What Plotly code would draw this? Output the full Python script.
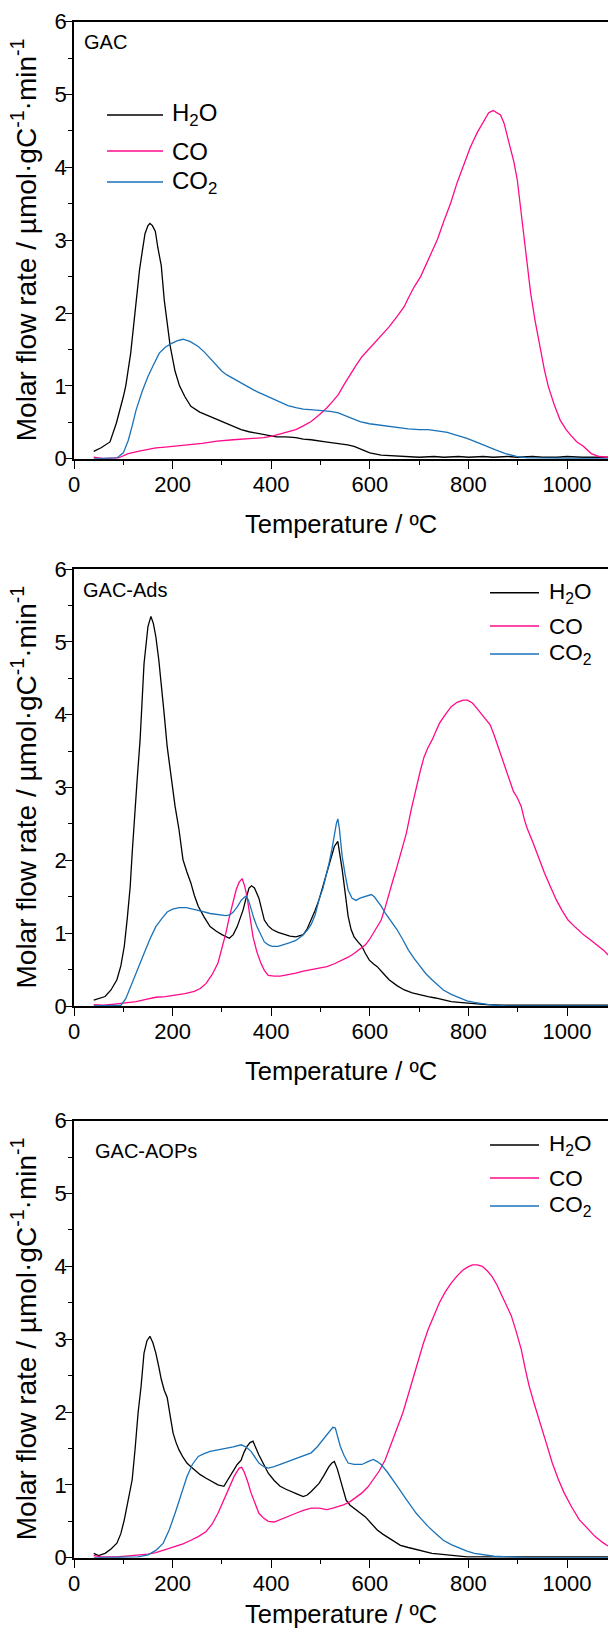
import plotly.graph_objects as go

# ---------------- DATA ----------------
panel_names = ["GAC", "GAC-Ads", "GAC-AOPs"]
series_names = ["H<sub>2</sub>O", "CO", "CO<sub>2</sub>"]

# Panel 1: GAC
gac_h2o_t = [40, 55, 73, 86, 100, 105, 115, 126, 133, 139, 144, 150, 154, 159, 165, 170, 177, 183, 186, 195, 205, 214, 225, 237, 255, 276, 295, 308, 325, 339, 355, 371, 390, 410, 430, 450, 465, 481, 510, 536, 555, 568, 585, 600, 623, 650, 680, 700, 730, 750, 780, 800, 830, 850, 880, 900, 930, 950, 980, 1000, 1030, 1050, 1070, 1083]
gac_h2o_v = [0.10, 0.15, 0.23, 0.49, 0.85, 1.0, 1.45, 2.18, 2.6, 2.87, 3.09, 3.2, 3.23, 3.2, 3.12, 2.9, 2.65, 2.18, 2.0, 1.55, 1.2, 1.0, 0.85, 0.72, 0.64, 0.58, 0.52, 0.49, 0.44, 0.40, 0.37, 0.35, 0.32, 0.30, 0.30, 0.29, 0.27, 0.26, 0.23, 0.21, 0.19, 0.17, 0.12, 0.08, 0.05, 0.04, 0.03, 0.02, 0.03, 0.02, 0.03, 0.02, 0.03, 0.02, 0.03, 0.02, 0.03, 0.02, 0.02, 0.03, 0.02, 0.02, 0.03, 0.02]
gac_co_t = [40, 60, 90, 110, 130, 150, 166, 185, 205, 230, 260, 290, 323, 345, 363, 385, 402, 425, 450, 465, 481, 497, 513, 525, 536, 548, 560, 572, 584, 596, 607, 623, 639, 655, 670, 676, 690, 703, 720, 737, 750, 764, 777, 791, 804, 818, 830, 841, 850, 858, 865, 872, 878, 885, 892, 899, 905, 912, 919, 926, 935, 946, 954, 962, 974, 986, 998, 1009, 1020, 1033, 1049, 1065, 1083]
gac_co_v = [0.02, 0.0, 0.01, 0.07, 0.10, 0.13, 0.15, 0.16, 0.17, 0.19, 0.21, 0.24, 0.26, 0.27, 0.27, 0.29, 0.31, 0.35, 0.40, 0.45, 0.51, 0.60, 0.70, 0.79, 0.88, 1.02, 1.16, 1.28, 1.40, 1.49, 1.58, 1.70, 1.81, 1.95, 2.09, 2.18, 2.36, 2.50, 2.76, 3.01, 3.26, 3.51, 3.79, 4.06, 4.28, 4.48, 4.62, 4.75, 4.78, 4.75, 4.72, 4.61, 4.45, 4.29, 4.08, 3.83, 3.50, 3.10, 2.65, 2.28, 1.90, 1.49, 1.22, 0.99, 0.74, 0.53, 0.40, 0.31, 0.23, 0.17, 0.07, 0.03, 0.02]
gac_co2_t = [40, 60, 87, 100, 110, 118, 126, 138, 150, 162, 173, 185, 197, 210, 221, 235, 252, 265, 276, 288, 300, 310, 320, 339, 355, 371, 385, 402, 418, 434, 450, 465, 485, 505, 520, 536, 548, 560, 580, 599, 620, 639, 660, 678, 700, 718, 740, 757, 777, 797, 815, 836, 855, 875, 899, 920, 950, 1000, 1083]
gac_co2_v = [0.0, 0.0, 0.01, 0.08, 0.25, 0.45, 0.67, 0.92, 1.13, 1.30, 1.45, 1.53, 1.58, 1.62, 1.64, 1.61, 1.54, 1.46, 1.38, 1.28, 1.20, 1.15, 1.11, 1.04, 0.98, 0.92, 0.88, 0.83, 0.78, 0.73, 0.70, 0.68, 0.67, 0.66, 0.65, 0.63, 0.60, 0.56, 0.51, 0.48, 0.46, 0.44, 0.42, 0.41, 0.40, 0.40, 0.38, 0.36, 0.32, 0.28, 0.23, 0.17, 0.12, 0.07, 0.03, 0.01, 0.01, 0.0, 0.0]

# Panel 2: GAC-Ads
ads_h2o_t = [40, 63, 75, 87, 95, 102, 108, 114, 118, 122, 128, 134, 142, 150, 156, 161, 166, 172, 177, 183, 189, 197, 205, 213, 221, 229, 237, 244, 252, 264, 276, 288, 300, 315, 323, 331, 337, 343, 349, 355, 360, 366, 375, 380, 386, 394, 402, 414, 426, 438, 450, 465, 473, 481, 489, 497, 505, 513, 520, 528, 535, 539, 544, 550, 556, 562, 568, 576, 584, 591, 599, 607, 615, 627, 639, 655, 670, 686, 702, 718, 733, 750, 765, 781, 797, 815, 836, 870, 900, 950, 1000, 1050, 1083]
ads_h2o_v = [0.08, 0.13, 0.22, 0.36, 0.55, 0.82, 1.2, 1.64, 2.1, 2.56, 3.1, 3.65, 4.70, 5.21, 5.35, 5.25, 5.07, 4.75, 4.43, 4.0, 3.56, 3.15, 2.74, 2.42, 2.01, 1.84, 1.69, 1.52, 1.37, 1.22, 1.09, 1.03, 0.98, 0.93, 0.98, 1.09, 1.2, 1.32, 1.48, 1.62, 1.65, 1.62, 1.48, 1.33, 1.18, 1.10, 1.05, 1.01, 0.98, 0.96, 0.95, 0.98, 1.06, 1.18, 1.31, 1.46, 1.64, 1.83, 2.0, 2.19, 2.26, 2.1, 1.87, 1.55, 1.23, 1.05, 0.95, 0.88, 0.82, 0.72, 0.63, 0.58, 0.54, 0.45, 0.36, 0.28, 0.22, 0.18, 0.15, 0.13, 0.11, 0.08, 0.06, 0.05, 0.04, 0.03, 0.02, 0.01, 0.01, 0.01, 0.01, 0.01, 0.01]
ads_co_t = [40, 60, 87, 105, 126, 146, 166, 185, 205, 225, 244, 256, 268, 280, 292, 300, 308, 315, 323, 329, 335, 341, 346, 351, 357, 363, 371, 379, 386, 394, 406, 418, 434, 450, 465, 481, 497, 513, 528, 544, 556, 568, 580, 591, 599, 607, 615, 623, 631, 639, 647, 655, 665, 674, 684, 694, 702, 710, 718, 726, 734, 741, 753, 765, 777, 789, 798, 808, 818, 828, 836, 844, 852, 860, 868, 875, 883, 891, 899, 907, 913, 919, 931, 942, 954, 966, 978, 990, 1002, 1017, 1033, 1049, 1065, 1075, 1083]
ads_co_v = [0.02, 0.01, 0.03, 0.04, 0.06, 0.09, 0.12, 0.13, 0.15, 0.17, 0.20, 0.24, 0.31, 0.43, 0.59, 0.78, 1.00, 1.22, 1.45, 1.60, 1.70, 1.75, 1.65, 1.50, 1.22, 0.95, 0.74, 0.59, 0.49, 0.42, 0.41, 0.41, 0.43, 0.45, 0.48, 0.50, 0.52, 0.54, 0.58, 0.63, 0.67, 0.72, 0.78, 0.84, 0.91, 1.00, 1.08, 1.18, 1.35, 1.55, 1.73, 1.91, 2.15, 2.37, 2.70, 3.01, 3.22, 3.42, 3.55, 3.65, 3.77, 3.88, 4.0, 4.11, 4.17, 4.20, 4.20, 4.16, 4.08, 4.00, 3.94, 3.86, 3.72, 3.56, 3.42, 3.29, 3.12, 2.95, 2.86, 2.74, 2.57, 2.44, 2.24, 2.03, 1.83, 1.64, 1.46, 1.31, 1.18, 1.08, 0.98, 0.90, 0.82, 0.76, 0.70]
ads_co2_t = [40, 80, 95, 105, 118, 130, 142, 154, 166, 178, 189, 200, 213, 228, 244, 260, 276, 292, 308, 316, 323, 331, 339, 345, 349, 354, 359, 365, 371, 378, 386, 394, 402, 414, 426, 438, 450, 462, 473, 481, 489, 497, 505, 512, 517, 523, 528, 532, 535, 538, 541, 544, 550, 556, 564, 572, 580, 588, 596, 603, 609, 615, 623, 631, 643, 655, 667, 678, 690, 702, 714, 726, 738, 749, 765, 781, 797, 812, 830, 852, 880, 1083]
ads_co2_v = [0.0, 0.0, 0.01, 0.1, 0.31, 0.52, 0.72, 0.92, 1.09, 1.20, 1.29, 1.33, 1.35, 1.35, 1.33, 1.30, 1.27, 1.25, 1.24, 1.25, 1.29, 1.36, 1.45, 1.49, 1.51, 1.45, 1.32, 1.20, 1.09, 0.98, 0.88, 0.84, 0.82, 0.82, 0.84, 0.87, 0.90, 0.96, 1.04, 1.12, 1.25, 1.46, 1.62, 1.80, 1.95, 2.15, 2.37, 2.50, 2.57, 2.45, 2.25, 2.05, 1.80, 1.59, 1.48, 1.45, 1.48, 1.50, 1.52, 1.53, 1.50, 1.45, 1.37, 1.28, 1.17, 1.05, 0.91, 0.77, 0.65, 0.54, 0.44, 0.36, 0.29, 0.22, 0.16, 0.11, 0.07, 0.05, 0.03, 0.01, 0.0, 0.0]

# Panel 3: GAC-AOPs
aop_h2o_t = [40, 50, 63, 75, 87, 95, 102, 110, 118, 124, 130, 136, 142, 148, 154, 160, 166, 172, 177, 183, 189, 195, 201, 207, 213, 221, 229, 237, 244, 256, 268, 280, 292, 304, 313, 323, 331, 339, 345, 351, 357, 363, 369, 375, 385, 394, 406, 418, 430, 442, 454, 465, 473, 481, 489, 497, 507, 517, 523, 528, 534, 540, 546, 552, 560, 568, 580, 591, 603, 615, 627, 639, 650, 662, 678, 694, 710, 726, 742, 757, 777, 797, 850, 900, 950, 1000, 1050, 1083]
aop_h2o_v = [0.06, 0.03, 0.06, 0.12, 0.20, 0.33, 0.52, 0.78, 1.07, 1.5, 1.99, 2.35, 2.81, 2.98, 3.04, 2.95, 2.81, 2.62, 2.45, 2.3, 2.2, 1.95, 1.71, 1.58, 1.48, 1.38, 1.30, 1.25, 1.21, 1.14, 1.09, 1.04, 1.00, 0.98, 1.08, 1.21, 1.28, 1.34, 1.45, 1.53, 1.58, 1.60, 1.50, 1.41, 1.28, 1.16, 1.06, 0.98, 0.94, 0.91, 0.87, 0.84, 0.86, 0.91, 0.96, 1.02, 1.13, 1.25, 1.30, 1.32, 1.22, 1.07, 0.92, 0.79, 0.72, 0.68, 0.62, 0.56, 0.47, 0.38, 0.32, 0.27, 0.22, 0.17, 0.14, 0.11, 0.08, 0.06, 0.05, 0.04, 0.02, 0.01, 0.01, 0.01, 0.01, 0.01, 0.01, 0.01]
aop_co_t = [40, 55, 87, 110, 134, 150, 166, 185, 205, 221, 237, 252, 268, 280, 292, 304, 315, 325, 335, 340, 345, 352, 359, 367, 375, 385, 394, 406, 418, 434, 450, 465, 481, 497, 513, 525, 536, 548, 560, 572, 584, 596, 607, 619, 631, 643, 655, 667, 678, 688, 698, 708, 718, 730, 741, 753, 765, 777, 789, 798, 808, 818, 828, 838, 848, 858, 868, 878, 887, 897, 907, 915, 923, 934, 946, 958, 970, 982, 994, 1009, 1025, 1041, 1057, 1072, 1083]
aop_co_v = [0.03, 0.01, 0.01, 0.02, 0.04, 0.05, 0.07, 0.11, 0.15, 0.19, 0.24, 0.29, 0.36, 0.46, 0.61, 0.79, 0.98, 1.12, 1.23, 1.24, 1.18, 1.05, 0.89, 0.75, 0.61, 0.54, 0.50, 0.49, 0.52, 0.56, 0.61, 0.65, 0.68, 0.68, 0.66, 0.68, 0.70, 0.73, 0.77, 0.83, 0.89, 0.97, 1.07, 1.19, 1.34, 1.55, 1.76, 1.99, 2.24, 2.48, 2.72, 2.93, 3.13, 3.33, 3.50, 3.65, 3.77, 3.87, 3.95, 3.99, 4.02, 4.02, 4.00, 3.94, 3.86, 3.74, 3.59, 3.46, 3.32, 3.10, 2.86, 2.60, 2.36, 2.10, 1.85, 1.57, 1.30, 1.08, 0.89, 0.70, 0.52, 0.40, 0.29, 0.21, 0.16]
aop_co2_t = [40, 100, 130, 150, 166, 181, 193, 205, 217, 229, 240, 252, 264, 276, 292, 308, 323, 339, 349, 359, 367, 375, 385, 394, 406, 418, 434, 450, 465, 481, 493, 505, 517, 525, 530, 535, 540, 548, 556, 568, 584, 596, 607, 615, 623, 635, 647, 658, 670, 682, 694, 706, 718, 734, 749, 765, 781, 797, 812, 830, 852, 880, 920, 1083]
aop_co2_v = [0.0, 0.0, 0.01, 0.04, 0.10, 0.20, 0.38, 0.61, 0.86, 1.11, 1.28, 1.39, 1.43, 1.46, 1.48, 1.50, 1.52, 1.55, 1.52, 1.46, 1.38, 1.30, 1.25, 1.23, 1.25, 1.28, 1.32, 1.37, 1.40, 1.44, 1.52, 1.62, 1.72, 1.79, 1.78, 1.66, 1.53, 1.40, 1.30, 1.28, 1.28, 1.32, 1.35, 1.32, 1.28, 1.18, 1.07, 0.96, 0.84, 0.72, 0.61, 0.52, 0.43, 0.33, 0.24, 0.18, 0.13, 0.09, 0.06, 0.04, 0.02, 0.01, 0.0, 0.0]

panels = [
    [(gac_h2o_t, gac_h2o_v), (gac_co_t, gac_co_v), (gac_co2_t, gac_co2_v)],
    [(ads_h2o_t, ads_h2o_v), (ads_co_t, ads_co_v), (ads_co2_t, ads_co2_v)],
    [(aop_h2o_t, aop_h2o_v), (aop_co_t, aop_co_v), (aop_co2_t, aop_co2_v)],
]

x_ticks = [0, 200, 400, 600, 800, 1000]
y_ticks = [0, 1, 2, 3, 4, 5, 6]

# ---------------- STYLE ----------------
W, H = 608, 1636
FONT = "Arial"
colors = ["#000000", "#FF0A8A", "#1A72B8"]

def fx(p):
    return p / W

def fy(p):
    return 1 - p / H

plot_left = 74
panel_px = [(21.7, 458.7), (569.0, 1006.0), (1120.7, 1557.7)]
xtitle_y = [524, 1071, 1614]
label_pos = [(82, 41.7), (81, 590), (93, 1151)]
legend_rows = [[115, 151, 182], [592.7, 626, 654], [1145, 1178, 1206]]
legend_x = [(107, 163, 170), (490, 539, 547), (490, 539, 547)]
legend_size = [24, 22.5, 22.5]

fig = go.Figure()
layout = dict(
    width=W, height=H,
    margin=dict(l=0, r=0, t=0, b=0),
    paper_bgcolor="white", plot_bgcolor="white",
    showlegend=False,
    font=dict(family=FONT, color="black", size=22),
)
annotations = []
shapes = []

for i, (series, (ptop, pbot)) in enumerate(zip(panels, panel_px)):
    xa = "x" if i == 0 else f"x{i+1}"
    ya = "y" if i == 0 else f"y{i+1}"
    for j, (t, v) in enumerate(series):
        fig.add_trace(go.Scatter(x=t, y=v, mode="lines", name=series_names[j],
                                 line=dict(color=colors[j], width=1.3),
                                 xaxis=xa, yaxis=ya))
    xkey = "xaxis" if i == 0 else f"xaxis{i+1}"
    ykey = "yaxis" if i == 0 else f"yaxis{i+1}"
    layout[xkey] = dict(
        domain=[fx(plot_left), 1.0], range=[0, 1083], anchor=ya,
        tickmode="array", tickvals=x_ticks, ticktext=[str(v) for v in x_ticks],
        ticks="outside", ticklen=8, tickwidth=1.3, tickcolor="black",
        minor=dict(dtick=100, tick0=0, ticks="outside", ticklen=4, tickwidth=1.3, tickcolor="black"),
        showline=True, linecolor="black", linewidth=1.6, mirror=True,
        showgrid=False, zeroline=False, automargin=False,
        tickfont=dict(size=22, family=FONT, color="black"), ticklabelstandoff=-3,
    )
    layout[ykey] = dict(
        domain=[fy(pbot), fy(ptop)], range=[0, 6], anchor=xa,
        tickmode="array", tickvals=y_ticks, ticktext=[str(v) for v in y_ticks],
        ticks="outside", ticklen=7, tickwidth=1.3, tickcolor="black",
        minor=dict(dtick=0.5, tick0=0, ticks="outside", ticklen=4, tickwidth=1.3, tickcolor="black"),
        showline=True, linecolor="black", linewidth=1.6, mirror=False,
        showgrid=False, zeroline=False, automargin=False,
        tickfont=dict(size=22, family=FONT, color="black"), ticklabelstandoff=-6,
    )
    # panel label
    lx, ly = label_pos[i]
    annotations.append(dict(text=panel_names[i], x=fx(lx), y=fy(ly), xref="paper", yref="paper",
                            xanchor="left", yanchor="middle", showarrow=False,
                            font=dict(size=20, family=FONT, color="black")))
    # axis titles
    annotations.append(dict(text="Temperature / ºC", x=fx((plot_left + W) / 2), y=fy(xtitle_y[i]),
                            xref="paper", yref="paper", xanchor="center", yanchor="middle",
                            showarrow=False, font=dict(size=25.5, family=FONT, color="black")))
    annotations.append(dict(text="Molar flow rate / µmol·gC<sup>-1</sup>·min<sup>-1</sup>",
                            x=fx(24), y=fy((ptop + pbot) / 2), xref="paper", yref="paper",
                            xanchor="center", yanchor="middle", textangle=-90, showarrow=False,
                            font=dict(size=28, family=FONT, color="black")))
    # legend
    x0, x1, xt = legend_x[i]
    for j, ry in enumerate(legend_rows[i]):
        shapes.append(dict(type="line", xref="paper", yref="paper", x0=fx(x0), x1=fx(x1),
                           y0=fy(ry), y1=fy(ry), line=dict(color=colors[j], width=1.5)))
        annotations.append(dict(text=series_names[j], x=fx(xt), y=fy(ry), xref="paper", yref="paper",
                                xanchor="left", yanchor="middle", showarrow=False,
                                font=dict(size=legend_size[i], family=FONT, color="black")))

layout["annotations"] = annotations
layout["shapes"] = shapes
fig.update_layout(**layout)
fig.write_html("out.html", config={"displayModeBar": False},
               post_script="document.body.style.margin='0';document.body.style.padding='0';")
